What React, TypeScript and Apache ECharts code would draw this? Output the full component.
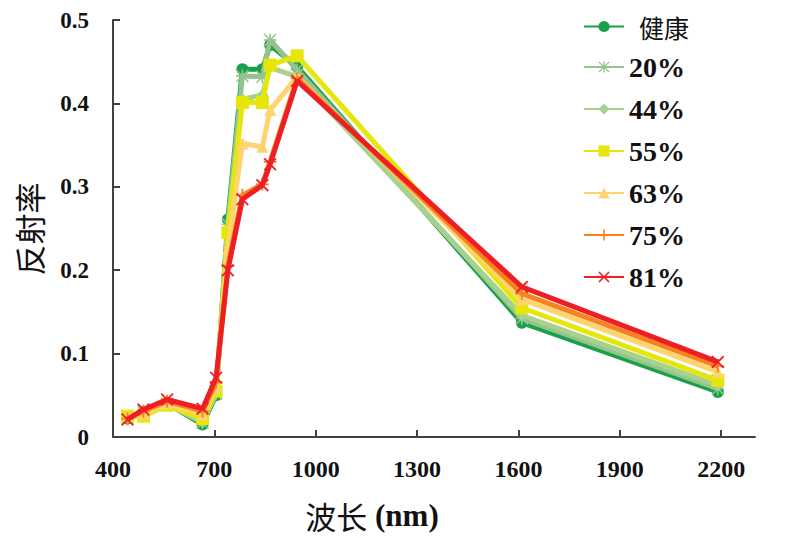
import React, { useEffect, useRef } from "react";
import * as echarts from "echarts";

const wavelengths = [443, 490, 560, 665, 705, 740, 783, 842, 865, 945, 1610, 2190];
const seriesNames = ["健康", "20%", "44%", "55%", "63%", "75%", "81%"];
const healthy = [0.022, 0.030, 0.040, 0.015, 0.050, 0.261, 0.441, 0.441, 0.470, 0.444, 0.137, 0.054];
const s20 = [0.023, 0.030, 0.040, 0.017, 0.052, 0.255, 0.433, 0.432, 0.476, 0.440, 0.142, 0.058];
const s44 = [0.024, 0.030, 0.039, 0.018, 0.053, 0.250, 0.405, 0.410, 0.443, 0.432, 0.146, 0.062];
const s55 = [0.025, 0.025, 0.038, 0.022, 0.055, 0.245, 0.401, 0.401, 0.446, 0.457, 0.155, 0.068];
const s63 = [0.026, 0.028, 0.040, 0.027, 0.060, 0.225, 0.352, 0.348, 0.392, 0.432, 0.165, 0.078];
const s75 = [0.022, 0.031, 0.043, 0.031, 0.066, 0.205, 0.290, 0.303, 0.330, 0.430, 0.172, 0.085];
const s81 = [0.021, 0.033, 0.045, 0.034, 0.071, 0.200, 0.285, 0.302, 0.327, 0.427, 0.180, 0.090];
const xTicks = [400, 700, 1000, 1300, 1600, 1900, 2200];
const yTicks = [0, 0.1, 0.2, 0.3, 0.4, 0.5];

const allValues = [healthy, s20, s44, s55, s63, s75, s81];
const colors = ["#19a04b", "#92c48c", "#a9d18e", "#e6e60a", "#ffd36e", "#f7821e", "#ee1f24"];
const ASTER =
  "path://M4.4,0H5.6V10H4.4Z M0,4.4H10V5.6H0Z M0.8,0L10,9.2L9.2,10L0,0.8Z M9.2,0L10,0.8L0.8,10L0,9.2Z";
const PLUS = "path://M4.3,0H5.7V10H4.3Z M0,4.3H10V5.7H0Z";
const CROSS = "path://M0,1L1,0L5,4L9,0L10,1L6,5L10,9L9,10L5,6L1,10L0,9L4,5Z";
const symbols = ["circle", ASTER, "diamond", "rect", "triangle", PLUS, CROSS];
const symbolSizes = [12, 13, 12, 13, 12, 13, 13];

const SERIF = "Liberation Serif";
const CJK = "Noto Sans CJK SC";

export default function App() {
  const ref = useRef<HTMLDivElement>(null);
  useEffect(() => {
    if (!ref.current) return;
    const chart = echarts.init(ref.current, undefined, { renderer: "svg" });
    const series = seriesNames.map((name, i) => ({
      name,
      type: "line",
      data: wavelengths.map((w, j) => [w, allValues[i][j]]),
      symbol: symbols[i],
      symbolSize: symbolSizes[i],
      showSymbol: true,
      lineStyle: { color: colors[i], width: 5 },
      itemStyle: { color: colors[i] },
      z: 2 + i,
    }));
    chart.setOption({
      animation: false,
      backgroundColor: "#ffffff",
      textStyle: { fontFamily: SERIF },
      grid: { left: 113, right: 45, top: 20, bottom: 101 },
      legend: {
        orient: "vertical",
        left: 583,
        top: 14,
        padding: 0,
        itemWidth: 40,
        itemHeight: 14,
        itemGap: 14,
        data: seriesNames,
        formatter: (n: string) => (n === "健康" ? "{c|" + n + "}" : "{d|" + n + "}"),
        textStyle: {
          fontFamily: SERIF,
          fontWeight: "bold",
          fontSize: 28,
          color: "#111",
          rich: {
            c: { fontFamily: CJK, fontWeight: "normal", fontSize: 25, color: "#111", padding: [0, 0, 0, 10] },
            d: { fontFamily: SERIF, fontWeight: "bold", fontSize: 28, color: "#111" },
          },
        },
      },
      xAxis: {
        type: "value",
        min: 400,
        max: 2300,
        splitLine: { show: false },
        axisLine: { show: true, onZero: false, lineStyle: { color: "#404040", width: 2 } },
        axisTick: { show: true, inside: true, length: 7, customValues: xTicks, lineStyle: { color: "#404040", width: 2 } },
        axisLabel: {
          customValues: xTicks,
          margin: 20,
          fontFamily: SERIF,
          fontWeight: "bold",
          fontSize: 24,
          color: "#111",
          formatter: (v: number) => String(v),
        },
      },
      yAxis: {
        type: "value",
        min: 0,
        max: 0.5,
        interval: 0.1,
        splitLine: { show: false },
        axisLine: { show: true, lineStyle: { color: "#404040", width: 2 } },
        axisTick: { show: true, inside: true, length: 7, customValues: yTicks, lineStyle: { color: "#404040", width: 2 } },
        axisLabel: {
          margin: 24,
          fontFamily: SERIF,
          fontWeight: "bold",
          fontSize: 23,
          color: "#111",
          formatter: (v: number) => (v === 0 ? "0" : v.toFixed(1)),
        },
      },
      graphic: [
        {
          type: "text",
          x: 372,
          y: 515,
          style: {
            text: "{a|波长}{b| (nm)}",
            align: "center",
            verticalAlign: "middle",
            rich: {
              a: { fontFamily: CJK, fontSize: 31, fontWeight: "normal", fill: "#111" },
              b: { fontFamily: SERIF, fontSize: 31, fontWeight: "bold", fill: "#111" },
            },
          },
        },
        {
          type: "text",
          x: 28,
          y: 229,
          rotation: Math.PI / 2,
          style: {
            text: "反射率",
            fontFamily: CJK,
            fontSize: 31,
            fill: "#111",
            align: "center",
            verticalAlign: "middle",
          },
        },
      ],
      series,
    });
    return () => chart.dispose();
  }, []);
  return (
    <div
      ref={ref}
      style={{ position: "absolute", left: 0, top: 0, width: 800, height: 538 }}
    />
  );
}
